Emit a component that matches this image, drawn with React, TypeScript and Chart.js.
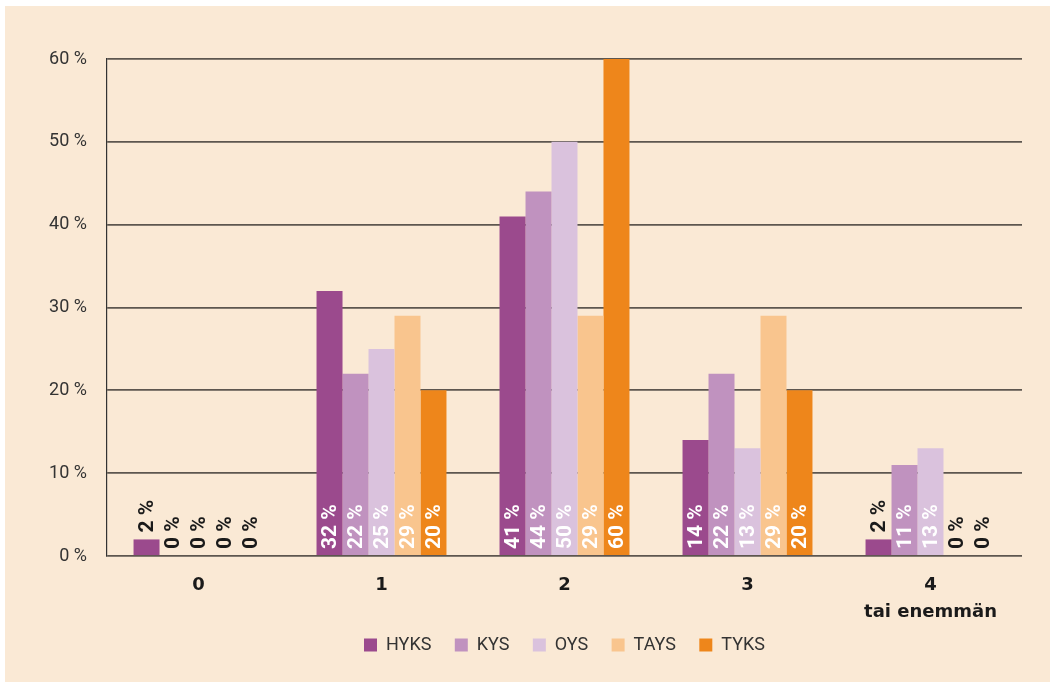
import React, { useEffect, useRef } from "react";
import { Chart, registerables } from "chart.js";

Chart.register(...registerables);

const categories: (string | string[])[] = ["0", "1", "2", "3", ["4", "tai enemmän"]];
const seriesNames = ["HYKS", "KYS", "OYS", "TAYS", "TYKS"];
const hyks = [2, 32, 41, 14, 2];
const kys = [0, 22, 44, 22, 11];
const oys = [0, 25, 50, 13, 13];
const tays = [0, 29, 29, 29, 0];
const tyks = [0, 20, 60, 20, 0];
const seriesColors = ["#9b4a8d", "#c092bf", "#dac2dd", "#f9c58e", "#ee861b"];
const yTicks = [0, 10, 20, 30, 40, 50, 60];

const FONT = "Roboto, 'Noto Sans', sans-serif";

const valueLabels = {
  id: "valueLabels",
  afterDatasetsDraw(chart: any) {
    const ctx = chart.ctx;
    ctx.save();
    ctx.font = `bold 21px ${FONT}`;
    ctx.textAlign = "left";
    ctx.textBaseline = "middle";
    chart.data.datasets.forEach((ds: any, di: number) => {
      const meta = chart.getDatasetMeta(di);
      meta.data.forEach((bar: any, i: number) => {
        const v = ds.data[i];
        const inside = v >= 5;
        const y = inside ? bar.base - 6 : bar.y - 7;
        ctx.save();
        ctx.translate(bar.x, y);
        ctx.rotate(-Math.PI / 2);
        ctx.fillStyle = inside ? "#ffffff" : "#1a1a1a";
        ctx.fillText(`${v} %`, 0, 1);
        ctx.restore();
      });
    });
    ctx.restore();
  },
};

export default function App() {
  const ref = useRef<HTMLCanvasElement>(null);
  useEffect(() => {
    document.body.style.margin = "0";
    const values = [hyks, kys, oys, tays, tyks];
    const chart = new Chart(ref.current!, {
      type: "bar",
      data: {
        labels: categories,
        datasets: seriesNames.map((name, k) => ({
          label: name,
          data: values[k],
          backgroundColor: seriesColors[k],
          borderWidth: 0,
          categoryPercentage: 0.71,
          barPercentage: 1,
        })),
      },
      options: {
        responsive: false,
        animation: false,
        devicePixelRatio: 1,
        layout: { padding: { top: 53, right: 28, left: 0, bottom: 18 } },
        plugins: {
          tooltip: { enabled: false },
          legend: {
            position: "bottom",
            fullSize: false,
            labels: {
              boxWidth: 13,
              boxHeight: 13,
              padding: 10,
              color: "#333333",
              font: { family: FONT, size: 18 },
              generateLabels: (c: any) => {
                const items = Chart.defaults.plugins.legend.labels.generateLabels(c);
                return items.map((it: any, idx: number) => ({
                  ...it,
                  lineWidth: 0,
                  text: idx < items.length - 1 ? it.text + "   " : it.text,
                }));
              },
            },
          },
        },
        scales: {
          x: {
            grid: { display: false, drawTicks: false },
            border: { display: false },
            ticks: {
              padding: 16,
              color: "#1a1a1a",
              font: { family: "'DejaVu Sans', sans-serif", size: 18, weight: "bold", lineHeight: 1.5 },
            },
            afterFit: (s: any) => {
              s.height = 70;
            },
          },
          y: {
            min: 0,
            max: 60,
            z: 1,
            afterBuildTicks: (s: any) => {
              s.ticks = yTicks.map((v) => ({ value: v }));
            },
            grid: { color: "rgba(65,60,55,0.85)", lineWidth: 1.8, drawTicks: false },
            border: { display: true, color: "#333333", width: 1.2 },
            ticks: {
              padding: 20,
              color: "#333333",
              font: { family: FONT, size: 18 },
              callback: (v: any) => `${v} %`,
            },
            afterFit: (s: any) => {
              s.width = 102;
            },
          },
        },
      },
      plugins: [valueLabels],
    } as any);
    return () => chart.destroy();
  }, []);
  return (
    <div style={{ background: "#ffffff", paddingTop: 6, paddingLeft: 5, width: 1045, height: 676 }}>
      <div style={{ background: "#fae9d5", width: 1045, height: 676 }}>
        <canvas ref={ref} width={1045} height={676} style={{ display: "block" }} />
      </div>
    </div>
  );
}
